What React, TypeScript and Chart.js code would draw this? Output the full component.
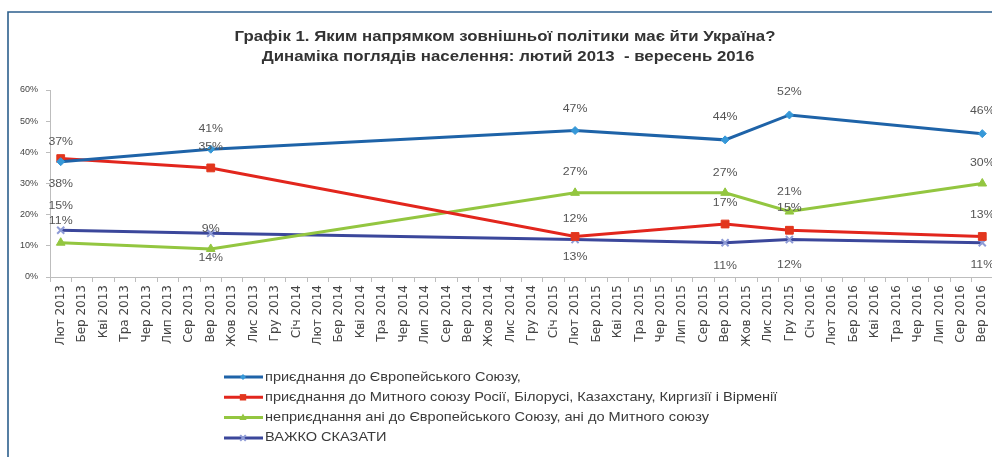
import React, { useEffect, useRef } from "react";
import { Chart, registerables } from "chart.js";
Chart.register(...registerables);

const titleLines = [
  "Графік 1. Яким напрямком зовнішньої політики має йти Україна?",
  "Динаміка поглядів населення: лютий 2013  - вересень 2016",
];

const categories = [
  "Лют 2013", "Бер 2013", "Кві 2013", "Тра 2013", "Чер 2013", "Лип 2013", "Сер 2013", "Вер 2013", "Жов 2013", "Лис 2013", "Гру 2013",
  "Січ 2014", "Лют 2014", "Бер 2014", "Кві 2014", "Тра 2014", "Чер 2014", "Лип 2014", "Сер 2014", "Вер 2014", "Жов 2014", "Лис 2014", "Гру 2014",
  "Січ 2015", "Лют 2015", "Бер 2015", "Кві 2015", "Тра 2015", "Чер 2015", "Лип 2015", "Сер 2015", "Вер 2015", "Жов 2015", "Лис 2015", "Гру 2015",
  "Січ 2016", "Лют 2016", "Бер 2016", "Кві 2016", "Тра 2016", "Чер 2016", "Лип 2016", "Сер 2016", "Вер 2016",
];

const surveyMonths = ["Лют 2013", "Вер 2013", "Лют 2015", "Вер 2015", "Гру 2015", "Вер 2016"];

const seriesNames = [
  "приєднання до Європейського Союзу,",
  "приєднання до Митного союзу Росії, Білорусі, Казахстану, Киргизії і Вірменії",
  "неприєднання ані до Європейського Союзу, ані до Митного союзу",
  "ВАЖКО СКАЗАТИ",
];

const euValues = [37, 41, 47, 44, 52, 46];
const customsValues = [38, 35, 13, 17, 15, 13];
const neitherValues = [11, 9, 27, 27, 21, 30];
const hardToSayValues = [15, 14, 12, 11, 12, 11];

const yTicks = [0, 10, 20, 30, 40, 50, 60];

// label placement (style): negative = above the point, positive = below (px)
const labelOffsets = [
  [-20, -20, -22, -23, -23, -23],
  [25, -21, 20, -21, -22, -22],
  [-22, -20, -21, -20, -20, -21],
  [-24, 25, -21, 23, 25, 22],
];

const lineColors = ["#1E63A8", "#E2261D", "#93C640", "#3B479B"];
const pointColors = ["#3698D8", "#E2361D", "#93C640", "#8E9BD6"];
const pointStyles = ["rectRot", "rect", "triangle", "crossRot"];
const pointRadii = [4, 5.5, 5, 5];

const FONT = "'Liberation Sans', Arial, sans-serif";
const SX = 1.12; // horizontal stretch of the reference's text

const makeData = (vals: number[]) => surveyMonths.map((m, i) => ({ x: m, y: vals[i] }));

const stretchedText = (ctx: any, text: string, x: number, y: number, align: string) => {
  ctx.save();
  ctx.translate(x, y);
  ctx.scale(SX, 1);
  ctx.textAlign = align;
  ctx.fillText(text, 0, 0);
  ctx.restore();
};

const framePlugin = {
  id: "frame",
  beforeDraw(chart: any) {
    const ctx = chart.ctx;
    ctx.save();
    ctx.fillStyle = "#ffffff";
    ctx.fillRect(0, 0, chart.width, chart.height);
    ctx.strokeStyle = "#2C5F8D";
    ctx.lineWidth = 1.6;
    ctx.beginPath();
    ctx.moveTo(8, chart.height);
    ctx.lineTo(8, 12);
    ctx.lineTo(chart.width, 12);
    ctx.stroke();
    ctx.fillStyle = "#333333";
    ctx.font = "bold 15px " + FONT;
    ctx.textBaseline = "middle";
    stretchedText(ctx, titleLines[0], 505, 37, "center");
    stretchedText(ctx, titleLines[1], 508, 57, "center");
    ctx.restore();
  },
};

const drawMarker = (ctx: any, style: string, x: number, y: number, r: number, color: string) => {
  ctx.save();
  ctx.fillStyle = color;
  ctx.strokeStyle = color;
  ctx.lineWidth = 2;
  ctx.beginPath();
  if (style === "rectRot") {
    ctx.moveTo(x, y - r);
    ctx.lineTo(x + r, y);
    ctx.lineTo(x, y + r);
    ctx.lineTo(x - r, y);
    ctx.closePath();
    ctx.fill();
  } else if (style === "rect") {
    ctx.rect(x - r * 0.8, y - r * 0.8, r * 1.6, r * 1.6);
    ctx.fill();
  } else if (style === "triangle") {
    ctx.moveTo(x, y - r);
    ctx.lineTo(x + r * 0.9, y + r * 0.6);
    ctx.lineTo(x - r * 0.9, y + r * 0.6);
    ctx.closePath();
    ctx.fill();
  } else {
    ctx.moveTo(x - r * 0.7, y - r * 0.7);
    ctx.lineTo(x + r * 0.7, y + r * 0.7);
    ctx.moveTo(x + r * 0.7, y - r * 0.7);
    ctx.lineTo(x - r * 0.7, y + r * 0.7);
    ctx.stroke();
  }
  ctx.restore();
};

const legendPlugin = {
  id: "customLegend",
  afterDraw(chart: any) {
    const ctx = chart.ctx;
    ctx.save();
    ctx.font = "13px " + FONT;
    ctx.textBaseline = "middle";
    seriesNames.forEach((name, i) => {
      const y = 377 + i * 20.3;
      ctx.strokeStyle = lineColors[i];
      ctx.lineWidth = 3;
      ctx.beginPath();
      ctx.moveTo(224, y);
      ctx.lineTo(263, y);
      ctx.stroke();
      drawMarker(ctx, pointStyles[i], 243, y, i === 0 ? 3 : 4, pointColors[i]);
      ctx.fillStyle = "#3A3A3A";
      stretchedText(ctx, name, 265, y, "left");
    });
    ctx.restore();
  },
};

const labelsPlugin = {
  id: "pointLabels",
  afterDatasetsDraw(chart: any) {
    const ctx = chart.ctx;
    ctx.save();
    ctx.font = "11px " + FONT;
    ctx.fillStyle = "#555555";
    ctx.textBaseline = "middle";
    chart.data.datasets.forEach((ds: any, di: number) => {
      const meta = chart.getDatasetMeta(di);
      meta.data.forEach((pt: any, i: number) => {
        const v = ds.data[i].y;
        stretchedText(ctx, v + "%", pt.x, pt.y + labelOffsets[di][i], "center");
      });
    });
    ctx.restore();
  },
};

export default function App() {
  const ref = useRef<HTMLCanvasElement | null>(null);
  useEffect(() => {
    document.body.style.margin = "0";
    const values = [euValues, customsValues, neitherValues, hardToSayValues];
    const chart = new Chart(ref.current as HTMLCanvasElement, {
      type: "line",
      data: {
        labels: categories,
        datasets: values.map((v, i) => ({
          label: seriesNames[i],
          data: makeData(v),
          borderColor: lineColors[i],
          backgroundColor: pointColors[i],
          pointBackgroundColor: pointColors[i],
          pointBorderColor: pointColors[i],
          pointBorderWidth: i === 3 ? 2 : 1,
          pointStyle: pointStyles[i] as any,
          pointRadius: pointRadii[i],
          borderWidth: 3,
          tension: 0,
          spanGaps: true,
          fill: false,
        })),
      },
      options: {
        animation: false,
        responsive: false,
        devicePixelRatio: 1,
        layout: { padding: { left: 8, right: 6, top: 90, bottom: 110 } },
        plugins: {
          legend: { display: false },
          title: { display: false },
          tooltip: { enabled: false },
        },
        scales: {
          x: {
            type: "category",
            offset: true,
            grid: { drawOnChartArea: false, drawTicks: true, tickLength: 5, offset: true, color: "#BDBDBD" },
            border: { display: true, color: "#BDBDBD" },
            ticks: {
              autoSkip: false,
              maxRotation: 90,
              minRotation: 90,
              padding: 3,
              color: "#444444",
              font: { family: "'DejaVu Sans', sans-serif", size: 12 },
            },
            afterFit: (scale: any) => {
              scale.height = 70;
            },
          },
          y: {
            min: 0,
            max: 60,
            afterBuildTicks: (scale: any) => {
              scale.ticks = yTicks.map((v) => ({ value: v }));
            },
            grid: { drawOnChartArea: false, drawTicks: true, tickLength: 4, color: "#BDBDBD" },
            border: { display: true, color: "#BDBDBD" },
            ticks: {
              padding: 8,
              color: "#444444",
              font: { family: FONT, size: 9 },
              callback: (v: any) => v + "%",
            },
            afterFit: (scale: any) => {
              scale.width = 42;
            },
          },
        },
      },
      plugins: [framePlugin, labelsPlugin, legendPlugin],
    });
    return () => chart.destroy();
  }, []);
  return (
    <div style={{ width: 992, height: 457, overflow: "hidden", position: "relative" }}>
      <canvas ref={ref} width={1000} height={457} style={{ display: "block" }} />
    </div>
  );
}
